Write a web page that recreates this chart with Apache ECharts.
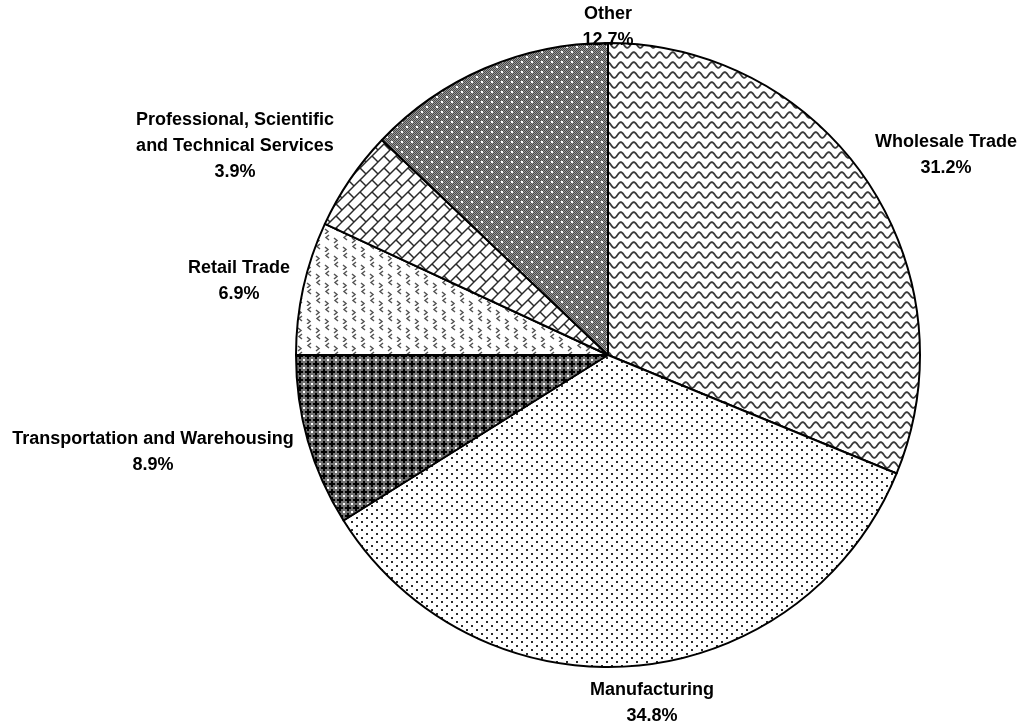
<!DOCTYPE html>
<html>
<head>
<meta charset="utf-8">
<script src="https://cdn.jsdelivr.net/npm/echarts@6/dist/echarts.min.js"></script>
<style>
  html, body { margin: 0; padding: 0; background: #fff; }
  #chart { width: 1024px; height: 727px; }
</style>
</head>
<body>
<div id="chart"></div>
<script>
// slice names, as printed
var categories = [
  'Wholesale Trade',
  'Manufacturing',
  'Transportation and Warehousing',
  'Retail Trade',
  'Professional, Scientific\nand Technical Services',
  'Other'
];
// share of the circle each slice takes in the picture
var shares = [31.2, 34.9, 8.9, 6.9, 5.2, 12.9];
// percent text printed under each name
var pctLabels = ['31.2%', '34.8%', '8.9%', '6.9%', '3.9%', '12.7%'];

// where each label block sits (centre of text)
var labelSpots = [[946, 155], [652, 703], [153, 452], [239, 281], [235, 146], [608, 27]];

function tile(w, h, draw) {
  var c = document.createElement('canvas');
  c.width = w; c.height = h;
  var ctx = c.getContext('2d');
  ctx.fillStyle = '#fff';
  ctx.fillRect(0, 0, w, h);
  draw(ctx, w, h);
  return c;
}

// wavy lines
var wavePat = tile(13, 10, function (ctx, w) {
  ctx.strokeStyle = '#3a3a3a';
  ctx.lineWidth = 1.8;
  for (var k = -1; k <= 1; k++) {
    ctx.beginPath();
    for (var x = -1; x <= w + 1; x += 0.5) {
      var y = 5 + k * 10 + 2.8 * Math.sin(2 * Math.PI * x / w);
      if (x === -1) ctx.moveTo(x, y); else ctx.lineTo(x, y);
    }
    ctx.stroke();
  }
});

// fine dots
var dotPat = tile(10, 8, function (ctx) {
  ctx.fillStyle = '#2a2a2a';
  ctx.fillRect(1, 1, 2, 2);
  ctx.fillRect(6, 5, 2, 2);
});

// dark crosses
var crossPat = tile(8, 8, function (ctx) {
  ctx.fillStyle = '#707070';
  ctx.fillRect(0, 0, 8, 8);
  ctx.fillStyle = '#000';
  ctx.fillRect(1, 3, 6, 2);
  ctx.fillRect(3, 1, 2, 6);
  ctx.fillStyle = '#fff';
  ctx.fillRect(0, 0, 1, 1);
  ctx.fillRect(7, 0, 1, 1);
  ctx.fillRect(0, 7, 1, 1);
  ctx.fillRect(7, 7, 1, 1);
});

// little chevrons
var chevPat = tile(18, 18, function (ctx) {
  ctx.strokeStyle = '#555';
  ctx.lineWidth = 1.5;
  function lt(x, y) { ctx.beginPath(); ctx.moveTo(x + 3, y); ctx.lineTo(x, y + 2.5); ctx.lineTo(x + 3, y + 5); ctx.stroke(); }
  function gt(x, y) { ctx.beginPath(); ctx.moveTo(x, y); ctx.lineTo(x + 3, y + 2.5); ctx.lineTo(x, y + 5); ctx.stroke(); }
  lt(2, 1); gt(10, 4);
  lt(11, 10); gt(1, 13);
});

// diagonal bricks
var brickPat = tile(12, 12, function (ctx) {
  var p = 6, d = p * Math.SQRT2, L = 2 * d, s = Math.SQRT1_2;
  ctx.strokeStyle = '#2a2a2a';
  ctx.lineWidth = 1.5;
  function pt(u, v) { return [(u + v) * s, (-u + v) * s]; }
  for (var k = -6; k <= 6; k++) {
    var a = pt(-100, k * d), b = pt(100, k * d);
    ctx.beginPath(); ctx.moveTo(a[0], a[1]); ctx.lineTo(b[0], b[1]); ctx.stroke();
    for (var j = -8; j <= 8; j++) {
      var u = j * L + (Math.abs(k) % 2 ? L / 2 : 0);
      var c0 = pt(u, k * d), c1 = pt(u, (k + 1) * d);
      ctx.beginPath(); ctx.moveTo(c0[0], c0[1]); ctx.lineTo(c1[0], c1[1]); ctx.stroke();
    }
  }
});

// gray checker with white dots
var greyPat = tile(10, 10, function (ctx) {
  for (var y = 0; y < 10; y++) {
    for (var x = 0; x < 10; x++) {
      ctx.fillStyle = (x + y) % 2 ? '#9a9a9a' : '#4a4a4a';
      ctx.fillRect(x, y, 1, 1);
    }
  }
  ctx.fillStyle = '#fff';
  ctx.fillRect(1, 1, 2, 2);
  ctx.fillRect(6, 6, 2, 2);
});

var patterns = [wavePat, dotPat, crossPat, chevPat, brickPat, greyPat];

var seriesData = categories.map(function (name, i) {
  return {
    name: name,
    value: shares[i],
    itemStyle: { color: { image: patterns[i], repeat: 'repeat' } }
  };
});

var myChart = echarts.init(document.getElementById('chart'), null, { renderer: 'canvas' });

var option = {
  backgroundColor: '#fff',
  animation: false,
  series: [
    {
      type: 'pie',
      center: [608, 355],
      radius: 312,
      startAngle: 90,
      clockwise: true,
      avoidLabelOverlap: false,
      itemStyle: { borderColor: '#000', borderWidth: 2 },
      label: {
        show: true,
        position: 'outside',
        color: '#000',
        fontFamily: 'Liberation Sans',
        fontWeight: 'bold',
        fontSize: 18,
        lineHeight: 26,
        align: 'center',
        formatter: function (p) {
          return p.name + '\n' + pctLabels[p.dataIndex];
        }
      },
      labelLine: { show: false },
      labelLayout: function (params) {
        var spot = labelSpots[params.dataIndex];
        return { x: spot[0], y: spot[1], align: 'center', verticalAlign: 'middle' };
      },
      emphasis: { disabled: true },
      data: seriesData
    }
  ]
};

myChart.setOption(option);
</script>
</body>
</html>
